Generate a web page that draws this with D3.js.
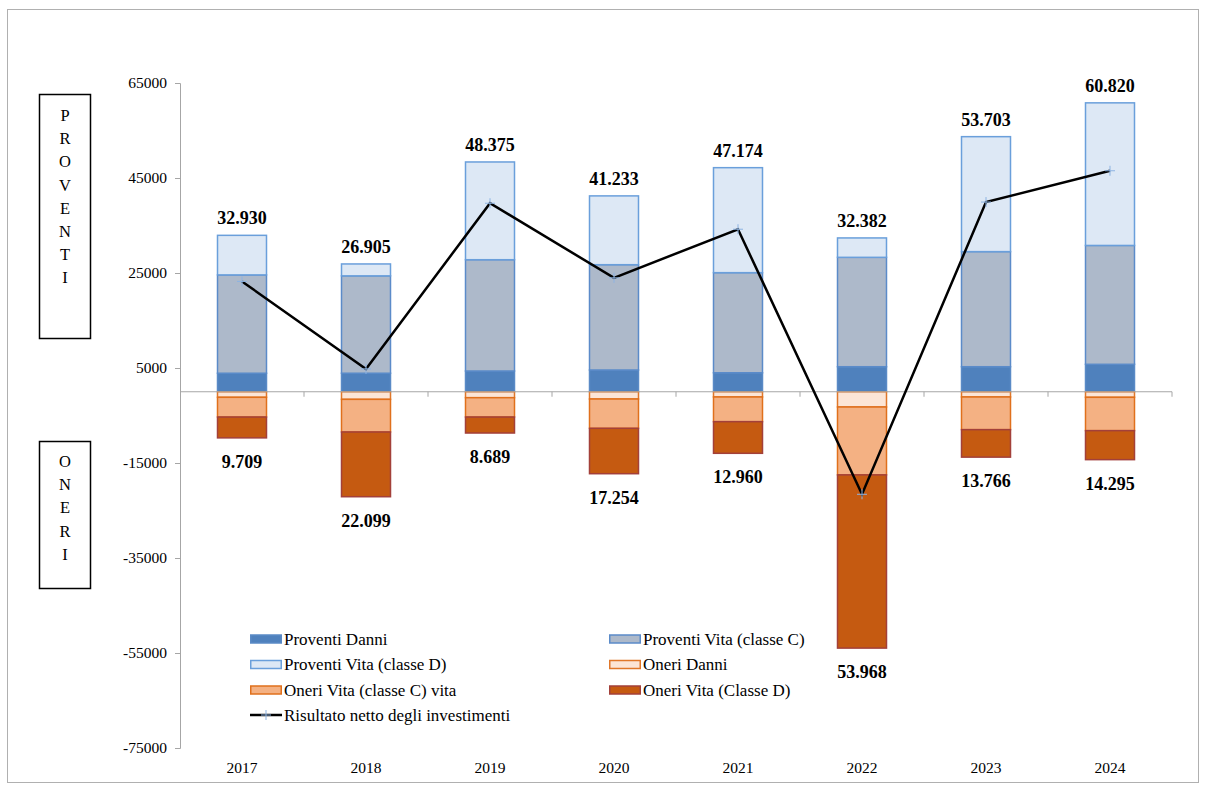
<!DOCTYPE html>
<html>
<head>
<meta charset="utf-8">
<script src="https://cdn.jsdelivr.net/npm/d3@7"></script>
<style>
  html, body { margin: 0; padding: 0; background: #fff; }
  svg { display: block; }
  svg text { font-family: "Liberation Serif", "Times New Roman", serif; }
</style>
</head>
<body>
<svg id="chart" width="1206" height="789"></svg>
<script>
// Anni e valori (migliaia di euro)
const years = ["2017", "2018", "2019", "2020", "2021", "2022", "2023", "2024"];

const proventiDanni  = [3900, 3900, 4370, 4580, 4000, 5270, 5270, 5780];
const proventiVitaC  = [20700, 20500, 23430, 22170, 21070, 23030, 24230, 25020];
const proventiVitaD  = [8330, 2505, 20575, 14483, 22104, 4082, 24203, 30020];

const oneriDanni     = [1170, 1600, 1250, 1530, 1100, 3210, 1100, 1170];
const oneriVitaC     = [4150, 6870, 4070, 6170, 5200, 14290, 6880, 7020];
const oneriVitaD     = [4389, 13629, 3369, 9554, 6660, 36468, 5786, 6105];

const proventiTotali = [32930, 26905, 48375, 41233, 47174, 32382, 53703, 60820];
const oneriTotali    = [9709, 22099, 8689, 17254, 12960, 53968, 13766, 14295];

const risultatoNetto = [23221, 4806, 39686, 23979, 34214, -21586, 39937, 46525];

const yTicks = [65000, 45000, 25000, 5000, -15000, -35000, -55000, -75000];

const seriesNames = {
  pD: "Proventi Danni",
  pC: "Proventi Vita (classe C)",
  pVD: "Proventi Vita (classe D)",
  oD: "Oneri Danni",
  oC: "Oneri Vita (classe C) vita",
  oVD: "Oneri Vita (Classe D)",
  net: "Risultato netto degli investimenti"
};

const styles = {
  pD:  { fill: "#4f81bd", stroke: "#5a8ac6" },
  pC:  { fill: "#adb9ca", stroke: "#5b8bc9" },
  pVD: { fill: "#dde8f5", stroke: "#6a9fdb" },
  oD:  { fill: "#fce5d6", stroke: "#e0772a" },
  oC:  { fill: "#f4b183", stroke: "#e0701c" },
  oVD: { fill: "#c55a11", stroke: "#a3403a" }
};

const FONT = "Liberation Serif, Times New Roman, serif";
const svg = d3.select("#chart");

// outer frame
svg.append("rect")
  .attr("x", 7.5).attr("y", 9.5).attr("width", 1191).attr("height", 773)
  .attr("fill", "none").attr("stroke", "#b0b0b0").attr("stroke-width", 1);

const plotLeft = 180, plotRight = 1172;
const x = d3.scaleBand().domain(years).range([plotLeft, plotRight]).paddingInner(0).paddingOuter(0);
const y = d3.scaleLinear().domain([-75000, 65000]).range([748, 83]);
const barW = 49;
const cx = d => x(d) + x.bandwidth() / 2;

// y axis
const yAxis = svg.append("g")
  .attr("transform", `translate(${plotLeft},0)`)
  .call(d3.axisLeft(y).tickValues(yTicks).tickSize(5).tickPadding(8).tickFormat(d => String(d)))
  .attr("font-family", FONT);
yAxis.select(".domain").attr("stroke", "#a6a6a6");
yAxis.selectAll(".tick line").attr("stroke", "#a6a6a6");
yAxis.selectAll(".tick text")
  .attr("font-family", FONT)
  .attr("font-size", 15.5).attr("fill", "#000");

// stacked bars
const stackPos = years.map((yr, i) => {
  const a = proventiDanni[i], b = a + proventiVitaC[i], c = b + proventiVitaD[i];
  return [
    { key: "pD", y0: 0, y1: a, yr },
    { key: "pC", y0: a, y1: b, yr },
    { key: "pVD", y0: b, y1: c, yr }
  ];
}).flat();
const stackNeg = years.map((yr, i) => {
  const a = -oneriDanni[i], b = a - oneriVitaC[i], c = b - oneriVitaD[i];
  return [
    { key: "oD", y0: 0, y1: a, yr },
    { key: "oC", y0: a, y1: b, yr },
    { key: "oVD", y0: b, y1: c, yr }
  ];
}).flat();

svg.append("g").selectAll("rect")
  .data(stackPos.concat(stackNeg))
  .join("rect")
  .attr("x", d => cx(d.yr) - barW / 2)
  .attr("width", barW)
  .attr("y", d => Math.min(y(d.y0), y(d.y1)))
  .attr("height", d => Math.abs(y(d.y0) - y(d.y1)))
  .attr("fill", d => styles[d.key].fill)
  .attr("stroke", d => styles[d.key].stroke)
  .attr("stroke-width", 1.5);

// x axis on zero
const xAxisG = svg.append("g");
xAxisG.append("line")
  .attr("x1", plotLeft).attr("x2", plotRight)
  .attr("y1", y(0)).attr("y2", y(0))
  .attr("stroke", "#a6a6a6").attr("stroke-width", 1);
xAxisG.selectAll("line.tk")
  .data(years)
  .join("line").attr("class", "tk")
  .attr("x1", d => x(d) + x.bandwidth())
  .attr("x2", d => x(d) + x.bandwidth())
  .attr("y1", y(0)).attr("y2", y(0) + 5)
  .attr("stroke", "#a6a6a6");

// category labels at bottom
svg.append("g").selectAll("text")
  .data(years).join("text")
  .attr("x", d => cx(d)).attr("y", 773)
  .attr("text-anchor", "middle")
  .attr("font-family", FONT)
  .attr("font-size", 15.5).attr("fill", "#000")
  .text(d => d);

// net result line
const line = d3.line().x((d, i) => cx(years[i])).y(d => y(d));
svg.append("path")
  .datum(risultatoNetto)
  .attr("d", line)
  .attr("fill", "none").attr("stroke", "#000").attr("stroke-width", 2.5)
  .attr("stroke-linejoin", "miter");
svg.append("g").selectAll("path.mk")
  .data(risultatoNetto).join("path").attr("class", "mk")
  .attr("d", (d, i) => {
    const px = cx(years[i]), py = y(d), s = 5;
    return `M${px - s},${py}H${px + s}M${px},${py - s}V${py + s}`;
  })
  .attr("stroke", "#8db3e2").attr("stroke-width", 1);

// value labels
const it = d3.formatLocale({ decimal: ",", thousands: ".", grouping: [3], currency: ["€", ""] });
const fmt = it.format(",.0f");
svg.append("g").selectAll("text")
  .data(proventiTotali).join("text")
  .attr("x", (d, i) => cx(years[i]))
  .attr("y", d => y(d) - 11)
  .attr("text-anchor", "middle").attr("font-weight", "bold")
  .attr("font-family", FONT)
  .attr("font-size", 18).attr("fill", "#000")
  .text(d => fmt(d));
svg.append("g").selectAll("text")
  .data(oneriTotali).join("text")
  .attr("x", (d, i) => cx(years[i]))
  .attr("y", d => y(-d) + 30)
  .attr("text-anchor", "middle").attr("font-weight", "bold")
  .attr("font-family", FONT)
  .attr("font-size", 18).attr("fill", "#000")
  .text(d => fmt(d));

// side boxes with vertical words
function sideBox(word, top, bottom, firstY) {
  const g = svg.append("g");
  g.append("rect")
    .attr("x", 39.5).attr("y", top + 0.5).attr("width", 51).attr("height", bottom - top)
    .attr("fill", "none").attr("stroke", "#000").attr("stroke-width", 1.5);
  g.selectAll("text").data(word.split("")).join("text")
    .attr("x", 65).attr("y", (d, i) => firstY + i * 23.2)
    .attr("text-anchor", "middle")
    .attr("font-family", FONT)
    .attr("font-size", 16.5).attr("fill", "#000")
    .text(d => d);
}
sideBox("PROVENTI", 94, 338, 121);
sideBox("ONERI", 441, 588, 467);

// legend
const legendItems = [
  { key: "pD", col: 0, row: 0 },
  { key: "pC", col: 1, row: 0 },
  { key: "pVD", col: 0, row: 1 },
  { key: "oD", col: 1, row: 1 },
  { key: "oC", col: 0, row: 2 },
  { key: "oVD", col: 1, row: 2 },
  { key: "net", col: 0, row: 3 }
];
const colX = [250, 609];
const rowY = [639, 664.5, 690, 715];
const lg = svg.append("g");
legendItems.forEach(item => {
  const gx = colX[item.col], gy = rowY[item.row];
  if (item.key === "net") {
    lg.append("line").attr("x1", gx).attr("x2", gx + 32).attr("y1", gy).attr("y2", gy)
      .attr("stroke", "#000").attr("stroke-width", 2.5);
    lg.append("path")
      .attr("d", `M${gx + 11},${gy}H${gx + 21}M${gx + 16},${gy - 5}V${gy + 5}`)
      .attr("stroke", "#8db3e2").attr("stroke-width", 1);
  } else {
    lg.append("rect").attr("x", gx + 0.75).attr("y", gy - 4).attr("width", 30.5).attr("height", 8)
      .attr("fill", styles[item.key].fill).attr("stroke", styles[item.key].stroke)
      .attr("stroke-width", 1.5);
  }
  lg.append("text").attr("x", gx + 34).attr("y", gy + 5.5)
    .attr("font-family", FONT)
    .attr("font-size", 17).attr("fill", "#000")
    .text(seriesNames[item.key]);
});
</script>
</body>
</html>
